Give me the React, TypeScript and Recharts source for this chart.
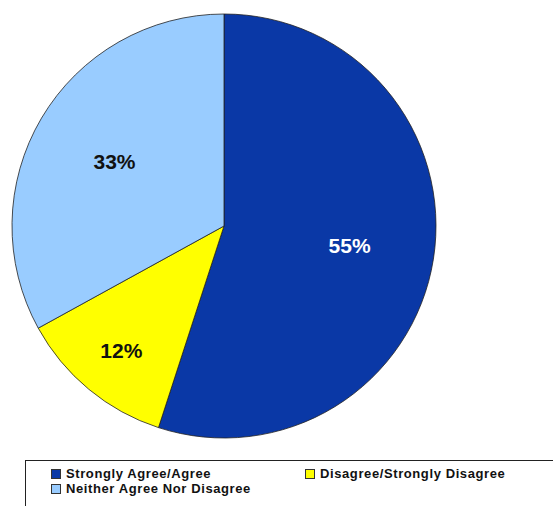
import React from 'react';
import { PieChart, Pie, Cell, Legend } from 'recharts';

const categories = ['Strongly Agree/Agree', 'Disagree/Strongly Disagree', 'Neither Agree Nor Disagree'];
const percents = [55, 12, 33];
const colors = ['#0a38a6', '#ffff00', '#99ccff'];
const labelColors = ['#ffffff', '#111111', '#111111'];

const data = categories.map((name, i) => ({ name, value: percents[i] }));

const RADIAN = Math.PI / 180;

const renderLabel = (props: any) => {
  const { cx, cy, midAngle, outerRadius, index, value } = props;
  // small slices get their label pushed further out, like the original
  const factor = value < 20 ? 0.76 : 0.6;
  const r = outerRadius * factor;
  const x = cx + r * Math.cos(-midAngle * RADIAN);
  const y = cy + r * Math.sin(-midAngle * RADIAN);
  return (
    <text
      x={x}
      y={y}
      fill={labelColors[index]}
      textAnchor="middle"
      dominantBaseline="central"
      fontFamily="'Liberation Sans', Arial, sans-serif"
      fontWeight="bold"
      fontSize={21}
    >
      {`${value}%`}
    </text>
  );
};

const LegendBox = () => (
  <div
    style={{
      border: '1px solid #222',
      width: 560,
      height: 60,
      boxSizing: 'border-box',
      position: 'relative',
      fontFamily: "'Liberation Sans', Arial, sans-serif",
      fontWeight: 'bold',
      fontSize: 13,
      letterSpacing: 0.6,
      color: '#111',
    }}
  >
    {categories.map((name, i) => {
      const col = i === 1 ? 1 : 0;
      const row = i === 2 ? 1 : 0;
      return (
        <div
          key={name}
          style={{
            position: 'absolute',
            left: col === 0 ? 25 : 279,
            top: row === 0 ? 5 : 20,
            display: 'flex',
            alignItems: 'center',
            whiteSpace: 'nowrap',
            lineHeight: '16px',
          }}
        >
          <span
            style={{
              display: 'inline-block',
              width: 8,
              height: 8,
              background: colors[i],
              border: '1px solid #333',
              marginRight: 5,
            }}
          />
          {name}
        </div>
      );
    })}
  </div>
);

export default function App() {
  return (
    <div style={{ position: 'absolute', left: 0, top: 0, width: 553, height: 506, overflow: 'hidden', background: '#fff' }}>
      <PieChart width={553} height={506} margin={{ top: 0, right: 0, bottom: 0, left: 0 }}>
        <Pie
          data={data}
          dataKey="value"
          nameKey="name"
          cx={224}
          cy={226}
          outerRadius={212}
          startAngle={90}
          endAngle={-270}
          stroke="#222"
          strokeWidth={0.8}
          label={renderLabel}
          labelLine={false}
          isAnimationActive={false}
        >
          {data.map((d, i) => (
            <Cell key={d.name} fill={colors[i]} />
          ))}
        </Pie>
        <Legend
          content={() => <LegendBox />}
          wrapperStyle={{ position: 'absolute', left: 25, top: 460, width: 560, height: 60 }}
        />
      </PieChart>
    </div>
  );
}
